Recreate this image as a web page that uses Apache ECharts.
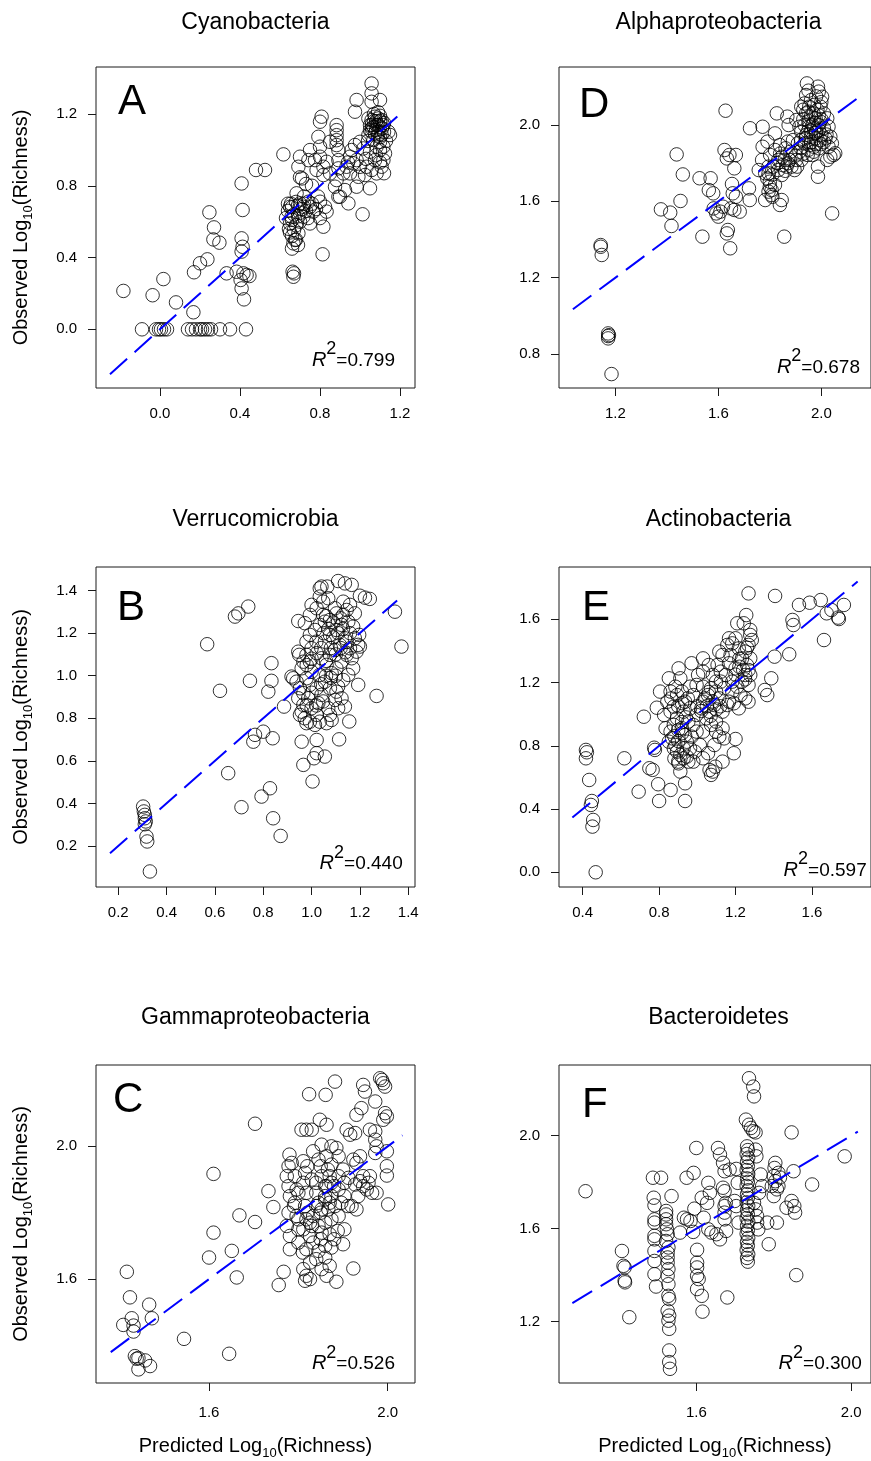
<!DOCTYPE html>
<html><head><meta charset="utf-8">
<script src="https://cdn.jsdelivr.net/npm/echarts@6/dist/echarts.min.js"></script>
<style>html,body{margin:0;padding:0;background:#fff}#c{width:871px;height:1461px}</style>
</head><body><div id="c"></div>
<script>
const FONT = '"Liberation Sans", Arial, Helvetica, sans-serif';

// ---------- DATA ----------
const titles = {A:'Cyanobacteria', D:'Alphaproteobacteria', B:'Verrucomicrobia', E:'Actinobacteria', C:'Gammaproteobacteria', F:'Bacteroidetes'};
const r2 = {A:'0.799', D:'0.678', B:'0.440', E:'0.597', C:'0.526', F:'0.300'};

const xTicksA = [0.0, 0.4, 0.8, 1.2], yTicksA = [0.0, 0.4, 0.8, 1.2];
const xTicksD = [1.2, 1.6, 2.0], yTicksD = [0.8, 1.2, 1.6, 2.0];
const xTicksB = [0.2, 0.4, 0.6, 0.8, 1.0, 1.2, 1.4], yTicksB = [0.2, 0.4, 0.6, 0.8, 1.0, 1.2, 1.4];
const xTicksE = [0.4, 0.8, 1.2, 1.6], yTicksE = [0.0, 0.4, 0.8, 1.2, 1.6];
const xTicksC = [1.6, 2.0], yTicksC = [1.6, 2.0];
const xTicksF = [1.6, 2.0], yTicksF = [1.2, 1.6, 2.0];

const xRangeA = [-0.32, 1.275], yRangeA = [-0.327, 1.462];
const xRangeD = [0.981, 2.193], yRangeD = [0.622, 2.304];
const xRangeB = [0.108, 1.428], yRangeB = [0.007, 1.511];
const xRangeE = [0.276, 1.909], yRangeE = [-0.093, 1.931];
const xRangeC = [1.347, 2.061], yRangeC = [1.287, 2.245];
const xRangeF = [1.2455, 2.051], yRangeF = [0.936, 2.304];

// 1:1 reference line extents (predicted = observed)
const lineA = [-0.25, 1.21], lineD = [1.035, 2.143], lineB = [0.166, 1.354];
const lineE = [0.346, 1.839], lineC = [1.38, 2.033], lineF = [1.28, 2.017];

// [predicted, observed]
const ptsA = [
[-0.09,0],[-0.02,0],[-0.005,0],[0.005,0],[0.02,0],[0.035,0],[0.14,0],[0.16,0],[0.18,0],[0.2,0],[0.21,0],[0.225,0],[0.24,0],[0.255,0],[0.3,0],[0.35,0],[0.43,0],
[-0.183,0.214],[-0.037,0.19],[0.017,0.28],[0.08,0.15],[0.167,0.095],[0.17,0.318],[0.2,0.368],[0.237,0.39],[0.247,0.652],[0.27,0.568],[0.267,0.501],[0.297,0.483],[0.333,0.312],[0.408,0.813],[0.413,0.665],[0.408,0.507],[0.413,0.46],[0.408,0.433],[0.383,0.321],[0.417,0.312],[0.433,0.303],[0.447,0.297],[0.403,0.275],[0.408,0.228],[0.42,0.167],[0.48,0.888],[0.525,0.888],[0.617,0.975],[0.663,0.321],[0.667,0.293],[0.67,0.312],[0.813,0.418],[1.013,0.641],[1.05,0.786],
[0.65,0.683],[0.658,0.628],[0.65,0.59],[0.67,0.553],[0.675,0.498],[0.667,0.479],[0.692,0.535],[0.7,0.702],[0.717,0.683],[0.742,0.711],[0.75,0.683],[0.767,0.656],[0.8,0.711],[0.825,0.683],[0.833,0.656],[0.817,0.572],[0.75,0.59],[0.717,0.628],[0.683,0.758],[0.7,0.847],[0.71,0.841],[0.692,0.906],[0.7,0.962],[0.742,0.943],[0.75,0.999],[0.775,0.943],[0.783,0.888],[0.8,0.962],[0.817,0.906],[0.817,0.86],[0.833,0.934],[0.85,0.869],[0.8,1.018],[0.792,1.073],[0.808,1.185],[0.8,1.157],[0.85,1.045],[0.883,1.138],[0.883,1.11],[0.883,1.082],[0.883,1.054],[0.883,1.027],[0.892,0.999],[0.883,0.832],[0.892,0.739],[0.875,0.795],[0.942,0.702],[0.892,0.943],[0.892,0.897],
[0.64,0.66],[0.66,0.61],[0.645,0.56],[0.66,0.52],[0.68,0.58],[0.7,0.65],[0.73,0.66],[0.76,0.7],[0.78,0.67],[0.72,0.74],[0.69,0.69],[0.655,0.7],[0.74,0.62],[0.69,0.47],[0.7,0.6],[0.8,0.62],[0.79,0.74],[0.76,0.8],[0.73,0.81],[0.66,0.45],
[0.63,0.62],[0.67,0.64],[0.69,0.63],[0.71,0.67],[0.68,0.71],[0.66,0.68],[0.64,0.7],[0.72,0.7],[0.65,0.54],[0.68,0.5],
[0.983,1.278],[0.975,1.213],[1.058,1.37],[1.058,1.315],[1.1,1.278],[1.058,1.268],[1.042,1.175],[1.058,1.166],[1.075,1.185],[1.092,1.175],[1.108,1.166],[1.05,1.138],[1.067,1.129],[1.083,1.138],[1.1,1.129],[1.117,1.138],[1.058,1.101],[1.075,1.092],[1.092,1.101],[1.108,1.083],[1.042,1.083],[1.142,1.101],[1.15,1.083],[1.067,1.055],[1.1,1.045],[1.117,1.018],[1.125,0.98],[1.117,0.943],[1.108,0.906],[1.075,0.943],[1.05,0.99],[1.017,1.008],[1.0,1.045],[0.975,1.027],[0.958,0.999],[0.95,0.962],[0.967,0.925],[0.983,0.943],[1.0,0.906],[1.033,0.906],[1.058,0.888],[1.083,0.869],[1.025,0.86],[0.992,0.85],[0.95,0.869],[0.917,0.869],[0.933,0.906],[0.983,0.795],[0.925,0.776],[0.9,0.739],[1.1,0.999],[1.083,1.018],
[1.07,1.2],[1.09,1.21],[1.1,1.16],[1.08,1.11],[1.06,1.14],[1.12,1.1],[1.1,1.07],[1.13,1.05],[1.04,1.05],[1.08,0.97],[1.03,0.95],[0.94,0.93],[1.1,0.93],[1.12,0.87],
[1.07,1.16],[1.09,1.14],[1.11,1.12],[1.06,1.12],[1.08,1.16],[1.1,1.19],[1.12,1.15],[1.05,1.11],[1.09,1.08]
];

const ptsD = [
[1.143,1.371],[1.143,1.362],[1.147,1.319],[1.172,0.908],[1.172,0.894],[1.172,0.882],[1.175,0.899],[1.185,0.695],[1.377,1.558],[1.413,1.541],[1.418,1.471],[1.438,1.846],[1.453,1.602],[1.462,1.741],[1.527,1.721],[1.538,1.415],[1.57,1.721],[1.563,1.659],[1.58,1.642],[1.582,1.563],[1.592,1.537],[1.6,1.52],[1.608,1.546],[1.618,1.572],[1.624,1.869],[1.628,2.075],[1.633,1.825],[1.637,1.45],[1.633,1.432],[1.646,1.354],[1.643,1.843],[1.662,1.773],[1.668,1.843],[1.653,1.691],[1.656,1.642],[1.668,1.624],[1.649,1.563],[1.662,1.555],[1.683,1.546],[1.719,1.668],[1.722,1.607],[1.723,1.983],[1.772,1.991],[1.757,1.764],[1.77,1.817],[1.772,1.886],[1.782,1.607],[1.791,1.913],[1.795,1.747],[1.8,1.703],[1.807,1.659],[1.81,1.624],[1.82,1.686],[1.827,2.061],[1.82,1.956],[1.833,1.817],[1.839,1.581],[1.846,1.607],[1.856,1.415],[1.868,2.044],[1.873,2.0],[1.861,1.878],[1.877,1.817],[1.884,1.782],[1.865,1.782],[1.846,1.834],[1.903,1.817],[1.896,1.764],[1.903,2.026],[1.915,1.991],[1.89,1.921],[1.87,1.913],[1.909,1.904],[1.915,1.86],[1.922,1.817],[1.906,1.782],
[1.944,2.218],[1.941,2.157],[1.987,2.201],[1.99,2.175],[2.003,2.148],[1.922,2.096],[1.935,2.113],[1.953,2.096],[1.972,2.105],[1.985,2.079],[1.997,2.096],[2.01,2.061],[2.023,2.035],[1.941,2.061],[1.96,2.044],[1.978,2.035],[1.997,2.017],[1.935,2.0],[1.953,1.991],[1.972,1.983],[1.99,1.974],[2.01,1.983],[2.028,1.991],[1.922,1.965],[1.941,1.948],[1.96,1.939],[1.978,1.93],[1.997,1.921],[2.016,1.93],[2.035,1.939],[1.935,1.904],[1.953,1.895],[1.972,1.886],[1.99,1.878],[2.028,1.886],[1.947,1.843],[1.966,1.843],[1.987,1.782],[1.987,1.729],[2.042,1.537],[2.023,1.817],[2.035,1.834],[2.048,1.843],[2.054,1.852],[2.041,1.904],[1.922,1.921],[1.966,2.0],[1.978,1.957],[1.947,1.965],
[1.782,1.747],[1.795,1.782],[1.814,1.782],[1.833,1.764],[1.846,1.738],[1.858,1.817],[1.801,1.843],[1.82,1.869],[1.839,1.895],[1.795,1.651],[1.807,1.633],[1.8,1.677],
[1.93,2.08],[1.95,2.07],[1.97,2.06],[1.99,2.05],[2.0,2.03],[1.93,2.03],[1.95,2.02],[1.97,2.01],[1.99,2.0],[1.96,1.97],[1.98,1.96],[2.0,1.95],[1.94,1.93],[1.96,1.91],[1.98,1.9],[2.0,1.9],[1.95,1.87],[1.97,1.86],[1.92,1.88],[1.93,1.85],[2.01,1.91],[2.02,1.95],[2.0,2.12],[1.96,2.13],[1.95,2.18],[1.98,2.15],
[1.79,1.72],[1.81,1.74],[1.83,1.8],[1.85,1.79],[1.87,1.8],[1.86,1.76],[1.84,1.85],[1.88,1.86],[1.9,1.84]
];

const ptsB = [
[0.303,0.385],[0.306,0.362],[0.31,0.346],[0.31,0.33],[0.314,0.315],[0.31,0.302],[0.317,0.244],[0.32,0.221],[0.331,0.08],
[0.568,1.148],[0.621,0.929],[0.655,0.542],[0.683,1.278],[0.697,1.293],[0.738,1.325],[0.71,0.382],[0.745,0.976],[0.759,0.69],[0.766,0.722],[0.793,0.432],[0.8,0.737],[0.828,0.471],[0.834,1.059],[0.839,0.706],[0.834,0.976],[0.821,0.925],[0.841,0.33],[0.872,0.247],[0.886,0.855],[0.917,0.996],[0.945,1.257],[0.959,0.69],[0.966,0.581],[1.004,0.503],[1.01,0.612],[1.021,0.636],[1.055,0.62],[1.021,0.698],[1.114,0.701],[1.156,0.785],[1.193,0.957],[1.269,0.905],[1.345,1.301],[1.372,1.137],[1.2,1.376],[1.221,1.367],[1.241,1.361],[1.11,1.445],[1.138,1.434],[1.166,1.427],[1.041,1.419],[1.034,1.411],[1.065,1.419],
[0.945,1.113],[0.949,1.098],[0.966,1.066],[0.959,1.035],[0.924,0.988],[0.938,0.972],[0.952,0.941],[0.966,0.918],[0.945,0.894],[0.959,0.831],[0.952,0.816],[0.972,0.8],[0.979,0.777],[0.993,0.784],[1.014,0.769],[1.034,0.784],[1.062,0.777],[1.083,0.792],[1.021,0.816],[1.0,0.847],[1.028,0.871],[1.041,0.91],[1.021,0.941],[0.993,0.957],[0.979,0.988],[1.0,1.019],[1.034,1.004],[1.055,0.972],[1.076,0.941],[1.103,0.925],[1.124,0.894],[1.138,0.855],[1.097,0.886],[1.11,0.949],[1.131,0.98],[1.152,1.004],[1.172,1.035],[1.166,1.082],[1.186,1.113],[1.193,1.145],[1.159,1.129],[1.145,1.098],[1.124,1.066],[1.103,1.035],[1.083,1.012],[1.062,1.051],[1.041,1.082],[1.021,1.106],[1.0,1.129],[0.979,1.16],[0.993,1.192],[1.014,1.215],[1.034,1.239],[1.055,1.254],[1.076,1.262],[1.103,1.293],[1.097,1.317],[1.131,1.286],[1.152,1.254],[1.172,1.231],[1.159,1.2],[1.138,1.176],[1.117,1.145],[1.097,1.121],[1.076,1.098],[1.055,1.16],[1.076,1.192],[1.103,1.215],[1.124,1.239],[1.034,1.372],[1.048,1.348],[1.069,1.364],[1.0,1.333],[1.021,1.317],[0.993,1.286],[0.972,1.247],[1.048,1.286],[0.979,1.098],[0.993,1.066],[1.048,0.879],[1.069,0.847],[1.076,0.816],[1.11,0.847],[0.966,0.863],[0.986,0.894],[1.145,1.16],[1.179,1.176],[1.2,1.137],[1.197,1.192],[1.131,1.348],[1.159,1.333],[1.145,1.309],[1.179,1.293],
[1.05,1.2],[1.07,1.22],[1.09,1.18],[1.11,1.2],[1.13,1.22],[1.09,1.25],[1.06,1.28],[1.12,1.27],[1.08,1.13],[1.1,1.1],[1.12,1.13],[1.14,1.11],[1.06,1.07],[1.04,1.13],[1.02,1.16],[1.0,1.08],[0.98,1.05],[1.06,1.0],[1.08,0.99],[1.1,1.0],[1.04,0.96],[1.0,0.92],[0.98,0.86],[1.02,0.86]
];

const ptsE = [
[0.417,0.774],[0.422,0.759],[0.417,0.721],[0.434,0.584],[0.448,0.451],[0.443,0.426],[0.455,0.331],[0.451,0.289],[0.468,0.0],
[0.618,0.721],[0.693,0.51],[0.72,0.984],[0.749,0.658],[0.766,0.648],[0.774,0.788],[0.778,0.774],[0.788,1.041],[0.795,0.557],[0.8,0.451],[0.805,1.143],[0.851,1.227],[0.86,0.521],[0.864,1.1],[0.902,1.29],[0.911,1.227],[0.936,0.451],[0.936,0.563],[0.97,1.322],[1.004,1.248],[1.03,1.353],[1.06,1.311],[1.056,0.753],[1.064,0.647],[1.072,0.616],[1.081,0.637],[1.094,0.668],[1.115,1.396],[1.132,0.7],[1.14,0.847],[1.191,0.753],[1.2,0.843],[1.157,1.438],[1.183,1.448],[1.174,1.374],[1.166,1.322],[1.2,1.29],[1.209,1.575],[1.243,1.575],[1.256,1.627],[1.268,1.764],[1.277,1.533],[1.277,1.501],[1.285,1.469],[1.268,1.438],[1.251,1.396],[1.277,1.353],[1.26,1.311],[1.268,1.279],[1.251,1.248],[1.277,1.248],[1.268,1.185],[1.251,1.1],[1.268,1.079],[1.226,1.121],[1.217,1.037],[1.191,1.069],[1.353,1.153],[1.366,1.121],[1.387,1.227],[1.404,1.364],[1.407,1.748],[1.481,1.379],[1.498,1.596],[1.503,1.564],[1.532,1.691],[1.588,1.705],[1.646,1.722],[1.663,1.469],[1.677,1.638],[1.702,1.659],[1.737,1.611],[1.741,1.602],[1.767,1.691],
[0.843,1.079],[0.86,1.016],[0.877,1.048],[0.894,1.121],[0.919,1.143],[0.936,1.079],[0.962,1.037],[0.928,1.016],[0.894,0.974],[0.877,0.932],[0.86,0.89],[0.868,0.847],[0.885,0.805],[0.894,0.763],[0.911,0.742],[0.928,0.784],[0.945,0.826],[0.936,0.868],[0.919,0.911],[0.953,0.953],[0.979,0.932],[0.996,0.89],[0.97,0.858],[0.962,0.784],[0.902,0.689],[0.911,0.637],[0.945,0.732],[0.979,0.7],[1.013,0.805],[0.996,0.995],[1.021,1.037],[1.03,1.079],[1.056,1.121],[1.072,1.164],[1.098,1.143],[1.115,1.1],[1.089,1.058],[1.064,1.016],[1.047,0.974],[1.072,0.932],[1.098,0.953],[1.132,1.016],[1.157,1.058],[1.14,1.164],[1.123,1.206],[1.098,1.206],[1.03,1.174],[0.996,1.185],[0.979,1.121],[0.962,1.174],[0.885,1.174],[0.86,1.143],[1.03,0.89],[1.098,0.89],[1.132,0.911],[1.166,1.079],[1.183,1.143],[1.149,1.248],[1.123,1.269],[1.03,1.269],[1.081,1.248],[1.183,1.206],[1.209,1.174],[1.234,1.206],[1.234,1.353],[1.217,1.416],[1.166,1.48],[1.2,1.48],[1.132,1.374],[1.106,1.311],[0.826,0.995],[0.834,0.911],[0.851,0.826],[0.877,0.784],[0.928,0.721],[0.953,0.7],[0.987,0.763],[1.03,0.721],[1.115,0.858],[1.089,0.805],
[0.88,0.86],[0.9,0.83],[0.92,0.88],[0.9,0.9],[0.92,0.95],[0.94,0.98],[0.9,1.05],[0.92,1.07],[0.95,1.1],[1.0,1.05],[1.05,1.05],[1.08,1.08],[1.1,1.03],[1.12,1.05],[1.04,1.1],[1.06,1.14],[1.02,1.02],[1.07,0.99],[1.22,1.3],[1.24,1.28],[1.2,1.25],[1.25,1.22],[1.22,1.35],[1.26,1.42],[0.88,0.72],[0.9,0.7]
];

const ptsC = [
[1.416,1.622],[1.423,1.545],[1.408,1.462],[1.427,1.482],[1.431,1.46],[1.431,1.442],[1.466,1.523],[1.472,1.482],[1.434,1.368],[1.438,1.36],[1.442,1.362],[1.442,1.328],[1.457,1.355],[1.468,1.338],[1.544,1.42],[1.645,1.375],
[1.6,1.665],[1.61,1.74],[1.61,1.917],[1.662,1.605],[1.651,1.685],[1.668,1.792],[1.703,1.772],[1.703,2.068],[1.733,1.865],[1.744,1.817],[1.756,1.582],[1.767,1.622],[1.78,1.975],[1.778,1.94],[1.774,1.91],[1.778,1.88],[1.781,1.85],[1.778,1.8],[1.774,1.76],[1.781,1.73],[1.781,1.69],[1.785,1.95],[1.792,1.91],[1.796,1.87],[1.792,1.83],[1.796,1.79],[1.8,1.75],[1.8,1.71],[1.807,2.05],[1.818,2.05],[1.83,2.05],[1.848,2.08],[1.863,2.065],[1.824,2.157],[1.861,2.155],[1.882,2.195],[1.811,1.955],[1.815,1.92],[1.811,1.89],[1.818,1.86],[1.815,1.82],[1.818,1.78],[1.811,1.75],[1.826,1.73],[1.818,1.69],[1.826,1.65],[1.811,1.63],[1.818,1.61],[1.815,1.595],[1.833,1.985],[1.845,1.96],[1.852,2.005],[1.863,1.97],[1.874,2.0],[1.885,1.995],[1.89,1.97],[1.874,1.945],[1.866,1.93],[1.852,1.91],[1.84,1.89],[1.863,1.88],[1.874,1.89],[1.89,1.91],[1.9,1.93],[1.903,1.89],[1.89,1.87],[1.874,1.85],[1.86,1.84],[1.845,1.83],[1.852,1.81],[1.867,1.81],[1.882,1.82],[1.896,1.83],[1.903,1.85],[1.911,1.82],[1.89,1.79],[1.874,1.78],[1.86,1.77],[1.845,1.76],[1.826,1.77],[1.833,1.79],[1.852,1.74],[1.87,1.735],[1.888,1.745],[1.903,1.75],[1.9,1.705],[1.874,1.695],[1.86,1.7],[1.845,1.685],[1.86,1.665],[1.852,1.63],[1.863,1.61],[1.885,1.592],[1.826,1.6],[1.833,1.71],[1.923,1.632],
[1.908,2.05],[1.916,2.035],[1.927,2.04],[1.93,2.095],[1.941,2.115],[1.945,2.185],[1.949,2.165],[1.972,2.135],[1.983,2.205],[1.987,2.2],[1.99,2.19],[1.994,2.18],[1.994,2.1],[1.99,2.08],[1.998,2.09],[1.96,2.05],[1.972,2.045],[1.972,2.02],[1.975,2.0],[1.972,1.98],[1.998,1.985],[1.998,1.94],[1.998,1.912],[2.001,1.825],[1.938,1.97],[1.93,1.95],[1.923,1.96],[1.912,1.905],[1.927,1.885],[1.938,1.895],[1.945,1.88],[1.957,1.89],[1.953,1.87],[1.965,1.86],[1.975,1.86],[1.96,1.91],[1.945,1.91],[1.934,1.85],[1.93,1.81],[1.919,1.82],
[1.8,1.78],[1.82,1.8],[1.84,1.82],[1.86,1.85],[1.84,1.86],[1.86,1.88],[1.88,1.88],[1.85,1.8],[1.87,1.83],[1.83,1.76],[1.85,1.72],[1.88,1.72],[1.81,1.68],[1.84,1.66],[1.87,1.64],[1.79,1.82],[1.8,1.86],[1.83,1.9],[1.85,1.94],[1.87,1.91],[1.82,1.94]
];

const ptsF = [
[1.314,1.761],[1.408,1.504],[1.412,1.44],[1.415,1.433],[1.415,1.376],[1.416,1.369],[1.427,1.219],
[1.488,1.819],[1.509,1.819],[1.49,1.733],[1.492,1.7],[1.492,1.64],[1.492,1.626],[1.492,1.569],[1.492,1.554],[1.492,1.504],[1.492,1.461],[1.492,1.404],[1.496,1.351],
[1.522,1.676],[1.522,1.661],[1.522,1.64],[1.522,1.619],[1.524,1.597],[1.526,1.576],[1.522,1.547],[1.528,1.519],[1.526,1.497],[1.526,1.476],[1.526,1.454],[1.528,1.426],[1.526,1.397],[1.528,1.361],[1.528,1.311],[1.53,1.297],[1.526,1.247],[1.53,1.226],[1.528,1.204],[1.53,1.169],[1.53,1.076],[1.53,1.026],[1.532,0.997],[1.536,1.74],
[1.558,1.583],[1.568,1.647],[1.576,1.64],[1.585,1.633],[1.575,1.819],[1.593,1.84],[1.6,1.947],[1.595,1.686],[1.592,1.586],[1.602,1.509],[1.602,1.454],[1.602,1.433],[1.602,1.397],[1.606,1.383],[1.602,1.34],[1.614,1.311],[1.616,1.243],[1.614,1.733],[1.619,1.647],[1.631,1.597],[1.639,1.583],[1.631,1.797],[1.628,1.711],[1.656,1.947],[1.661,1.919],[1.669,1.883],[1.673,1.847],[1.669,1.776],[1.673,1.761],[1.676,1.711],[1.673,1.697],[1.673,1.669],[1.673,1.64],[1.677,1.59],[1.661,1.554],[1.68,1.304],[1.703,1.857],[1.709,1.626],[1.703,1.697],[1.635,1.754],[1.652,1.576],[1.686,1.854],[1.699,1.719],[1.707,1.797],
[1.728,2.069],[1.736,2.047],[1.741,2.033],[1.736,2.247],[1.747,2.211],[1.749,2.169],[1.747,2.019],[1.753,2.014],
[1.731,1.954],[1.733,1.938],[1.73,1.921],[1.734,1.905],[1.731,1.887],[1.733,1.868],[1.73,1.852],[1.734,1.835],[1.731,1.816],[1.733,1.801],[1.73,1.784],[1.734,1.765],[1.731,1.748],[1.733,1.732],[1.73,1.713],[1.734,1.698],[1.731,1.681],[1.733,1.662],[1.73,1.645],[1.734,1.63],[1.731,1.612],[1.733,1.593],[1.73,1.578],[1.734,1.56],[1.731,1.543],[1.733,1.527],[1.73,1.508],[1.734,1.49],[1.731,1.474],[1.733,1.458],
[1.753,1.94],[1.755,1.911],[1.753,1.683],[1.757,1.654],[1.757,1.626],[1.76,1.597],[1.749,1.711],[1.766,1.833],[1.77,1.783],[1.762,1.754],
[1.783,1.626],[1.787,1.533],[1.804,1.883],[1.802,1.861],[1.8,1.826],[1.804,1.804],[1.795,1.783],[1.808,1.769],[1.8,1.74],[1.808,1.626],[1.812,1.783],[1.812,1.84],[1.846,2.014],[1.851,1.847],[1.846,1.719],[1.853,1.697],[1.855,1.669],[1.833,1.69],[1.858,1.4],[1.899,1.79],[1.983,1.911],[1.816,1.82]
];

// ---------- LAYOUT ----------
const order = ['A','D','B','E','C','F'];
const boxes = {A:[96,67,319,321], D:[559,67,319,321], B:[96,567,319,320], E:[559,567,319,320], C:[96,1065,319,319], F:[559,1065,319,319]};
const titleDy = {A:-44, D:-44, B:-47, E:-47, C:-47, F:-47};
const letterPos = {A:[118,117], D:[579,120], B:[117,623], E:[582,623], C:[113,1115], F:[582,1120]};
const r2Pos = {A:[395,361.7], D:[860,368.3], B:[402.7,865], E:[866.7,871.7], C:[395,1365], F:[861.7,1365]};

const D = {
  A:{pts:ptsA, xr:xRangeA, yr:yRangeA, xt:xTicksA, yt:yTicksA, line:lineA},
  D:{pts:ptsD, xr:xRangeD, yr:yRangeD, xt:xTicksD, yt:yTicksD, line:lineD},
  B:{pts:ptsB, xr:xRangeB, yr:yRangeB, xt:xTicksB, yt:yTicksB, line:lineB},
  E:{pts:ptsE, xr:xRangeE, yr:yRangeE, xt:xTicksE, yt:yTicksE, line:lineE},
  C:{pts:ptsC, xr:xRangeC, yr:yRangeC, xt:xTicksC, yt:yTicksC, line:lineC},
  F:{pts:ptsF, xr:xRangeF, yr:yRangeF, xt:xTicksF, yt:yTicksF, line:lineF}
};

const axisNameRich = {
  a:{fontSize:20, lineHeight:28, fontFamily:FONT, color:'#000'},
  s:{fontSize:13, lineHeight:14, verticalAlign:'bottom', fontFamily:FONT, color:'#000'}
};
const fmt = v => Number(v).toFixed(1);

const grid = [], xAxis = [], yAxis = [], series = [], graphic = [];
order.forEach((k, i) => {
  const b = boxes[k], d = D[k];
  const leftCol = (k === 'A' || k === 'B' || k === 'C');
  const bottomRow = (k === 'C' || k === 'F');
  grid.push({left:b[0], top:b[1], width:b[2], height:b[3], show:true, borderColor:'#1a1a1a', borderWidth:1, backgroundColor:'rgba(0,0,0,0)'});
  const xa = {
    type:'value', gridIndex:i, min:d.xr[0], max:d.xr[1], position:'bottom',
    axisLine:{show:false, onZero:false},
    axisTick:{show:true, inside:false, length:8, customValues:d.xt, lineStyle:{color:'#1a1a1a', width:1}},
    axisLabel:{customValues:d.xt, formatter:fmt, fontSize:15, fontFamily:FONT, color:'#000', margin: bottomRow ? 22 : 18},
    splitLine:{show:false}
  };
  if (bottomRow) {
    xa.name = '{a|Predicted Log}{s|10}{a|(Richness)}';
    xa.nameLocation = 'middle'; xa.nameGap = 49;
    xa.nameTextStyle = {fontSize:20, fontFamily:FONT, color:'#000', rich:axisNameRich};
  }
  const ya = {
    type:'value', gridIndex:i, min:d.yr[0], max:d.yr[1], position:'left',
    axisLine:{show:false, onZero:false},
    axisTick:{show:true, inside:false, length:8, customValues:d.yt, lineStyle:{color:'#1a1a1a', width:1}},
    axisLabel:{customValues:d.yt, formatter:fmt, fontSize:15, fontFamily:FONT, color:'#000', margin:19},
    splitLine:{show:false}
  };
  if (leftCol) {
    ya.name = '{a|Observed Log}{s|10}{a|(Richness)}';
    ya.nameLocation = 'middle'; ya.nameGap = 61; ya.nameRotate = 90;
    ya.nameTextStyle = {fontSize:20, fontFamily:FONT, color:'#000', rich:axisNameRich};
  }
  xAxis.push(xa); yAxis.push(ya);

  series.push({
    type:'scatter', xAxisIndex:i, yAxisIndex:i, data:d.pts,
    symbol:'circle', symbolSize:13.5, silent:true, animation:false, z:3,
    itemStyle:{color:'rgba(0,0,0,0)', borderColor:'#000', borderWidth:1}
  });
  series.push({
    type:'line', xAxisIndex:i, yAxisIndex:i, data:d.line.map(v => [v, v]),
    symbol:'none', showSymbol:false, silent:true, animation:false, z:4, clip:false,
    lineStyle:{color:'#0000ff', width:2, type:[23,10]}
  });

  graphic.push({type:'text', x:b[0] + b[2] / 2, y:b[1] + titleDy[k], silent:true,
    style:{text:titles[k], fontSize:23, fontFamily:FONT, fill:'#000', textAlign:'center', textVerticalAlign:'middle'}});
  graphic.push({type:'text', x:letterPos[k][0], y:letterPos[k][1] - 15, silent:true,
    style:{text:k, fontSize:42, fontFamily:FONT, fill:'#000', textAlign:'left', textVerticalAlign:'middle'}});
  graphic.push({type:'text', x:r2Pos[k][0], y:r2Pos[k][1] + 8.7, silent:true,
    style:{text:'{r|R}{s|2}{n|=' + r2[k] + '}', textAlign:'right', textVerticalAlign:'bottom', fill:'#000',
      rich:{
        r:{fontSize:20, fontStyle:'italic', fontFamily:FONT, lineHeight:30, verticalAlign:'bottom', fill:'#000'},
        s:{fontSize:18, fontFamily:FONT, lineHeight:10, verticalAlign:'top', fill:'#000'},
        n:{fontSize:19, fontFamily:FONT, lineHeight:30, verticalAlign:'bottom', fill:'#000'}
      }}});
});

const option = {animation:false, backgroundColor:'#fff', grid, xAxis, yAxis, series, graphic};
const chart = echarts.init(document.getElementById('c'), null, {renderer:'canvas'});
chart.setOption(option);
</script></body></html>
